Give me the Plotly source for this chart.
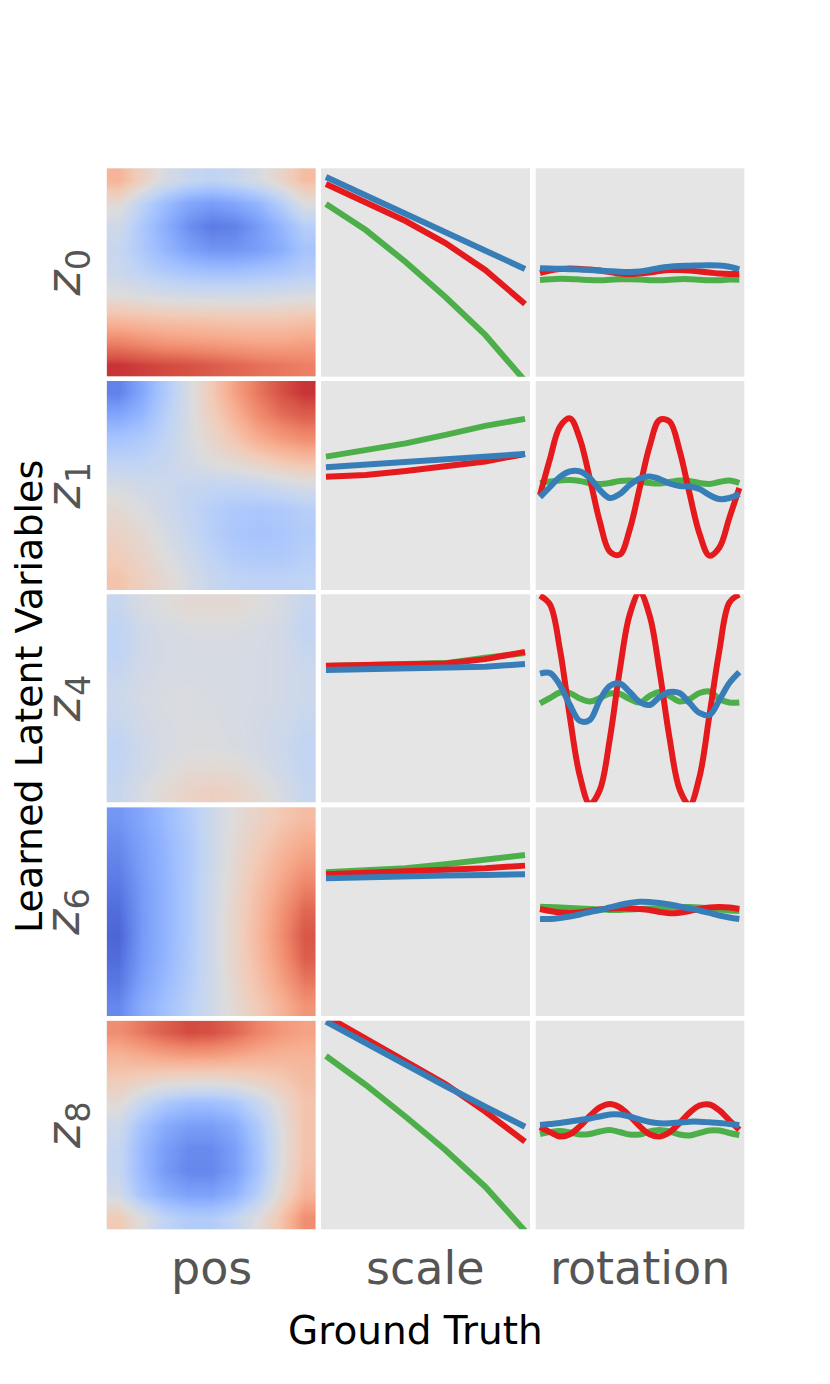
import plotly.graph_objects as go
from plotly.subplots import make_subplots

LATENTS = ["0", "1", "4", "6", "8"]
FACTORS = ["pos", "scale", "rotation"]
SHAPES = ["square", "ellipse", "heart"]

SCALE = [0.5, 0.6, 0.7, 0.8, 0.9, 1.0]
ROTATION = [0, 18, 36, 54, 72, 90, 108, 126, 144, 162, 180,
            198, 216, 234, 252, 270, 288, 306, 324, 342, 360]

# mean latent activation over (posY rows top->bottom, posX cols left->right)
POS_Z0 = [
    [0.35, 0.15, -0.05, -0.15, -0.2, -0.15, -0.05, 0.1, 0.3],
    [0.05, -0.2, -0.4, -0.55, -0.6, -0.55, -0.45, -0.25, 0.0],
    [-0.1, -0.3, -0.5, -0.68, -0.78, -0.75, -0.62, -0.45, -0.25],
    [-0.15, -0.3, -0.45, -0.58, -0.65, -0.65, -0.6, -0.5, -0.35],
    [-0.12, -0.2, -0.28, -0.33, -0.36, -0.36, -0.33, -0.3, -0.25],
    [0.02, -0.02, -0.05, -0.07, -0.07, -0.07, -0.07, -0.05, -0.03],
    [0.3, 0.27, 0.25, 0.24, 0.23, 0.22, 0.22, 0.22, 0.25],
    [0.6, 0.55, 0.5, 0.48, 0.46, 0.44, 0.42, 0.42, 0.45],
    [0.88, 0.85, 0.82, 0.8, 0.76, 0.72, 0.68, 0.65, 0.62],
]
POS_Z1 = [
    [-0.75, -0.55, -0.3, -0.05, 0.2, 0.45, 0.65, 0.8, 0.88],
    [-0.55, -0.45, -0.25, -0.05, 0.15, 0.35, 0.55, 0.68, 0.75],
    [-0.35, -0.3, -0.2, -0.05, 0.08, 0.22, 0.38, 0.48, 0.55],
    [-0.2, -0.2, -0.15, -0.08, 0.0, 0.05, 0.12, 0.2, 0.25],
    [-0.05, -0.1, -0.12, -0.15, -0.18, -0.18, -0.15, -0.1, -0.05],
    [0.05, -0.02, -0.1, -0.18, -0.25, -0.3, -0.32, -0.3, -0.25],
    [0.12, 0.05, -0.05, -0.15, -0.25, -0.32, -0.35, -0.33, -0.28],
    [0.18, 0.1, 0.0, -0.1, -0.2, -0.28, -0.3, -0.3, -0.25],
    [0.25, 0.15, 0.05, -0.05, -0.15, -0.2, -0.22, -0.22, -0.2],
]
POS_Z4 = [
    [-0.15, -0.05, 0.0, 0.05, 0.05, 0.05, 0.0, -0.05, -0.15],
    [-0.2, -0.1, -0.05, -0.03, -0.02, -0.03, -0.05, -0.08, -0.18],
    [-0.2, -0.1, -0.06, -0.05, -0.05, -0.05, -0.06, -0.08, -0.15],
    [-0.15, -0.08, -0.05, -0.04, -0.05, -0.05, -0.06, -0.08, -0.12],
    [-0.12, -0.06, -0.03, -0.03, -0.04, -0.05, -0.06, -0.08, -0.12],
    [-0.15, -0.08, -0.04, -0.03, -0.03, -0.05, -0.07, -0.1, -0.15],
    [-0.2, -0.1, -0.05, -0.02, -0.02, -0.04, -0.07, -0.12, -0.18],
    [-0.18, -0.1, -0.02, 0.03, 0.05, 0.03, -0.03, -0.1, -0.18],
    [-0.15, -0.05, 0.05, 0.12, 0.15, 0.12, 0.05, -0.05, -0.15],
]
POS_Z6 = [
    [-0.65, -0.55, -0.42, -0.28, -0.12, 0.02, 0.12, 0.22, 0.3],
    [-0.7, -0.58, -0.45, -0.3, -0.12, 0.04, 0.17, 0.3, 0.4],
    [-0.75, -0.6, -0.46, -0.3, -0.12, 0.06, 0.22, 0.38, 0.5],
    [-0.8, -0.62, -0.47, -0.3, -0.11, 0.08, 0.27, 0.45, 0.62],
    [-0.85, -0.63, -0.47, -0.3, -0.1, 0.1, 0.3, 0.52, 0.72],
    [-0.88, -0.63, -0.47, -0.3, -0.1, 0.1, 0.32, 0.55, 0.78],
    [-0.85, -0.62, -0.46, -0.29, -0.1, 0.1, 0.3, 0.52, 0.75],
    [-0.8, -0.58, -0.43, -0.27, -0.1, 0.08, 0.26, 0.45, 0.65],
    [-0.72, -0.52, -0.38, -0.24, -0.1, 0.05, 0.2, 0.36, 0.52],
]
POS_Z8 = [
    [0.55, 0.65, 0.75, 0.82, 0.8, 0.72, 0.6, 0.5, 0.45],
    [0.35, 0.4, 0.45, 0.48, 0.47, 0.43, 0.38, 0.35, 0.35],
    [0.2, 0.15, 0.1, 0.08, 0.08, 0.1, 0.15, 0.22, 0.3],
    [0.05, -0.15, -0.3, -0.38, -0.38, -0.32, -0.15, 0.05, 0.25],
    [-0.1, -0.35, -0.52, -0.6, -0.6, -0.52, -0.3, 0.0, 0.25],
    [-0.15, -0.42, -0.6, -0.7, -0.7, -0.6, -0.35, -0.02, 0.25],
    [-0.15, -0.42, -0.62, -0.72, -0.72, -0.6, -0.35, 0.0, 0.28],
    [-0.08, -0.35, -0.5, -0.58, -0.58, -0.48, -0.25, 0.08, 0.35],
    [0.2, 0.0, -0.2, -0.28, -0.28, -0.18, 0.0, 0.25, 0.55],
]

SCALE_Z0 = {
    "square": [6.85, 4.25, 1.05, -2.45, -6.25, -10.85],
    "ellipse": [8.85, 7.05, 5.15, 2.95, 0.25, -3.15],
    "heart": [9.55, 7.7, 5.85, 4.05, 2.15, 0.35],
}
SCALE_Z1 = {
    "square": [2.88, 3.55, 4.2, 5.05, 5.95, 6.65],
    "ellipse": [0.88, 1.05, 1.45, 1.9, 2.4, 3.15],
    "heart": [1.82, 2.1, 2.35, 2.6, 2.85, 3.15],
}
SCALE_Z4 = {
    "square": [3.23, 3.28, 3.38, 3.53, 4.08, 4.53],
    "ellipse": [3.26, 3.33, 3.4, 3.5, 3.93, 4.66],
    "heart": [2.83, 2.88, 2.93, 3.03, 3.16, 3.43],
}
SCALE_Z6 = {
    "square": [3.94, 4.12, 4.34, 4.74, 5.27, 5.67],
    "ellipse": [3.74, 3.87, 4.0, 4.17, 4.34, 4.6],
    "heart": [3.34, 3.47, 3.57, 3.62, 3.67, 3.74],
}
SCALE_Z8 = {
    "square": [6.9, 4.0, 0.83, -2.5, -6.17, -10.6],
    "ellipse": [10.9, 8.65, 6.5, 4.1, 1.35, -1.67],
    "heart": [10.35, 8.17, 6.0, 3.9, 1.83, -0.17],
}

ROT_Z0 = {
    "square": [-0.75, -0.68, -0.63, -0.65, -0.7, -0.75, -0.77, -0.73, -0.68, -0.67, -0.71,
               -0.77, -0.78, -0.73, -0.67, -0.67, -0.73, -0.78, -0.77, -0.71, -0.73],
    "ellipse": [-0.05, 0.2, 0.35, 0.4, 0.35, 0.3, 0.2, 0.05, -0.1, -0.15, -0.1,
                0.0, 0.15, 0.25, 0.25, 0.2, 0.1, 0.0, -0.1, -0.15, -0.15],
    "heart": [0.42, 0.4, 0.37, 0.33, 0.3, 0.25, 0.2, 0.13, 0.07, 0.05, 0.1,
              0.25, 0.45, 0.58, 0.65, 0.68, 0.71, 0.72, 0.69, 0.57, 0.32],
}
ROT_Z1 = {
    "square": [0.25, 0.4, 0.5, 0.55, 0.45, 0.25, 0.15, 0.25, 0.45, 0.5, 0.4,
               0.25, 0.2, 0.35, 0.5, 0.45, 0.25, 0.15, 0.35, 0.5, 0.25],
    "ellipse": [-0.95, 2.66, 5.88, 6.7, 4.65, 0.69, -3.61, -6.6, -6.9, -4.39, -0.25,
                3.93, 6.55, 6.38, 3.5, -0.78, -4.8, -7.0, -6.19, -3.23, -0.25],
    "heart": [-1.15, -0.15, 0.85, 1.4, 1.4, 0.75, -0.45, -1.25, -0.85, 0.05, 0.7,
              0.9, 0.65, 0.2, -0.05, -0.1, -0.35, -0.95, -1.35, -1.25, -0.85],
}
ROT_Z4 = {
    "square": [-0.52, 0.03, 0.58, 0.53, -0.02, -0.32, 0.03, 0.48, 0.43, -0.07, -0.42,
               0.23, 0.63, 0.23, -0.32, -0.07, 0.53, 0.68, -0.07, -0.42, -0.42],
    "ellipse": [10.3, 9.4, 4.9, -1.9, -7.8, -10.6, -9.2, -4.1, 2.8, 8.4, 10.6,
                8.3, 2.7, -4.0, -9.1, -10.7, -7.9, -1.7, 4.8, 9.6, 10.4],
    "heart": [2.48, 2.53, 1.33, -0.67, -2.27, -2.17, -0.17, 1.23, 1.48, 0.63, -0.37,
              -0.67, 0.13, 0.63, 0.53, -0.47, -1.47, -1.67, -0.17, 1.53, 2.63],
}
ROT_Z6 = {
    "square": [0.5, 0.47, 0.42, 0.37, 0.32, 0.27, 0.22, 0.17, 0.17, 0.22, 0.27,
               0.32, 0.37, 0.42, 0.47, 0.47, 0.42, 0.32, 0.22, 0.12, 0.07],
    "ellipse": [0.27, 0.07, -0.08, -0.13, -0.08, 0.07, 0.22, 0.32, 0.34, 0.32, 0.27,
                0.17, -0.03, -0.16, -0.11, 0.07, 0.27, 0.42, 0.47, 0.42, 0.27],
    "heart": [-0.73, -0.73, -0.63, -0.48, -0.28, -0.03, 0.17, 0.42, 0.67, 0.87, 0.99,
              0.97, 0.87, 0.72, 0.52, 0.32, 0.12, -0.13, -0.38, -0.58, -0.73],
}
ROT_Z8 = {
    "square": [-0.9, -0.7, -0.6, -0.75, -0.95, -0.9, -0.65, -0.5, -0.7, -0.95, -0.95,
               -0.65, -0.5, -0.65, -0.95, -1.05, -0.8, -0.55, -0.55, -0.8, -1.0],
    "ellipse": [-0.2, -0.71, -1.15, -0.93, -0.14, 0.9, 1.76, 2.1, 1.77, 0.91, -0.13,
                -0.92, -1.15, -0.72, 0.2, 1.22, 1.95, 2.05, 1.47, 0.47, -0.48],
    "heart": [0.0, 0.1, 0.2, 0.35, 0.5, 0.65, 0.85, 1.05, 1.05, 0.85, 0.55,
              0.3, 0.17, 0.17, 0.25, 0.33, 0.33, 0.27, 0.2, 0.1, 0.0],
}

POS_MAPS = [POS_Z0, POS_Z1, POS_Z4, POS_Z6, POS_Z8]
SCALE_CURVES = [SCALE_Z0, SCALE_Z1, SCALE_Z4, SCALE_Z6, SCALE_Z8]
ROT_CURVES = [ROT_Z0, ROT_Z1, ROT_Z4, ROT_Z6, ROT_Z8]

COLORS = {"ellipse": "#e41a1c", "heart": "#377eb8", "square": "#4daf4a"}
COOLWARM = ["#3b4cc0", "#5977e3", "#7b9ff9", "#9ebeff", "#c0d4f5", "#dddcdc",
            "#f2cbb7", "#f7ac8e", "#ee8468", "#d65244", "#b40426"]
COLORSCALE = [[i / (len(COOLWARM) - 1), c] for i, c in enumerate(COOLWARM)]

# page body adds an 8px margin, so the figure is laid out 8px smaller
OFF = 8
W, H = 830 - OFF, 1384 - OFF
COL_PX = [(106.7, 315.7), (321.0, 530.0), (535.7, 744.3)]
ROW_PX = [(168.3, 376.7), (381.0, 590.0), (594.3, 802.3), (807.3, 1016.0), (1020.7, 1229.3)]
Y_LIM = 10.43


def fx(px):
    return (px - OFF) / W


def fy(px):
    return 1 - (px - OFF) / H


fig = make_subplots(rows=5, cols=3)

for r in range(5):
    fig.add_trace(
        go.Heatmap(z=POS_MAPS[r], colorscale=COLORSCALE, zmin=-1, zmax=1,
                   zsmooth="best", showscale=False, hoverinfo="skip"),
        row=r + 1, col=1,
    )
    for shape in SHAPES:
        fig.add_trace(
            go.Scatter(x=SCALE, y=SCALE_CURVES[r][shape], mode="lines",
                       line=dict(color=COLORS[shape], width=6)),
            row=r + 1, col=2,
        )
    for shape in SHAPES:
        fig.add_trace(
            go.Scatter(x=ROTATION, y=ROT_CURVES[r][shape], mode="lines",
                       line=dict(color=COLORS[shape], width=6, shape="spline")),
            row=r + 1, col=3,
        )

fig.update_xaxes(showgrid=False, zeroline=False, showticklabels=False, ticks="",
                 showline=False, fixedrange=True)
fig.update_yaxes(showgrid=False, zeroline=False, showticklabels=False, ticks="",
                 showline=False, fixedrange=True)

for r in range(5):
    for c in range(3):
        n = r * 3 + c + 1
        suffix = "" if n == 1 else str(n)
        x0, x1 = COL_PX[c]
        y0, y1 = ROW_PX[r]
        fig.layout["xaxis" + suffix].domain = [fx(x0), fx(x1)]
        fig.layout["yaxis" + suffix].domain = [fy(y1), fy(y0)]
        if c == 0:
            fig.layout["xaxis" + suffix].range = [-0.5, 8.5]
            fig.layout["yaxis" + suffix].range = [8.5, -0.5]
        elif c == 1:
            fig.layout["xaxis" + suffix].range = [0.4875, 1.0125]
            fig.layout["yaxis" + suffix].range = [-Y_LIM, Y_LIM]
        else:
            fig.layout["xaxis" + suffix].range = [-7.8, 369]
            fig.layout["yaxis" + suffix].range = [-Y_LIM, Y_LIM]

annotations = []
for r, latent in enumerate(LATENTS):
    y0, y1 = ROW_PX[r]
    annotations.append(dict(
        x=fx(66), y=fy((y0 + y1) / 2),
        text="<i>z</i><sub>" + latent + "</sub>", textangle=-90,
        font=dict(size=48, color="#555555"),
    ))
for c, name in enumerate(FACTORS):
    x0, x1 = COL_PX[c]
    annotations.append(dict(
        x=fx((x0 + x1) / 2), y=fy(1268),
        text=name, font=dict(size=46, color="#555555"),
    ))
annotations.append(dict(
    x=fx(415), y=fy(1330), text="Ground Truth",
    font=dict(size=39, color="black"),
))
annotations.append(dict(
    x=fx(29), y=fy(697), text="Learned Latent Variables",
    textangle=-90, font=dict(size=38, color="black"),
))
for a in annotations:
    a.update(xref="paper", yref="paper", xanchor="center", yanchor="middle",
             showarrow=False, borderpad=0)

fig.update_layout(
    width=W,
    height=H,
    margin=dict(l=0, r=0, t=0, b=0),
    paper_bgcolor="white",
    plot_bgcolor="#e5e5e5",
    showlegend=False,
    font=dict(family="DejaVu Sans"),
    annotations=annotations,
)

fig.write_html("out.html")
